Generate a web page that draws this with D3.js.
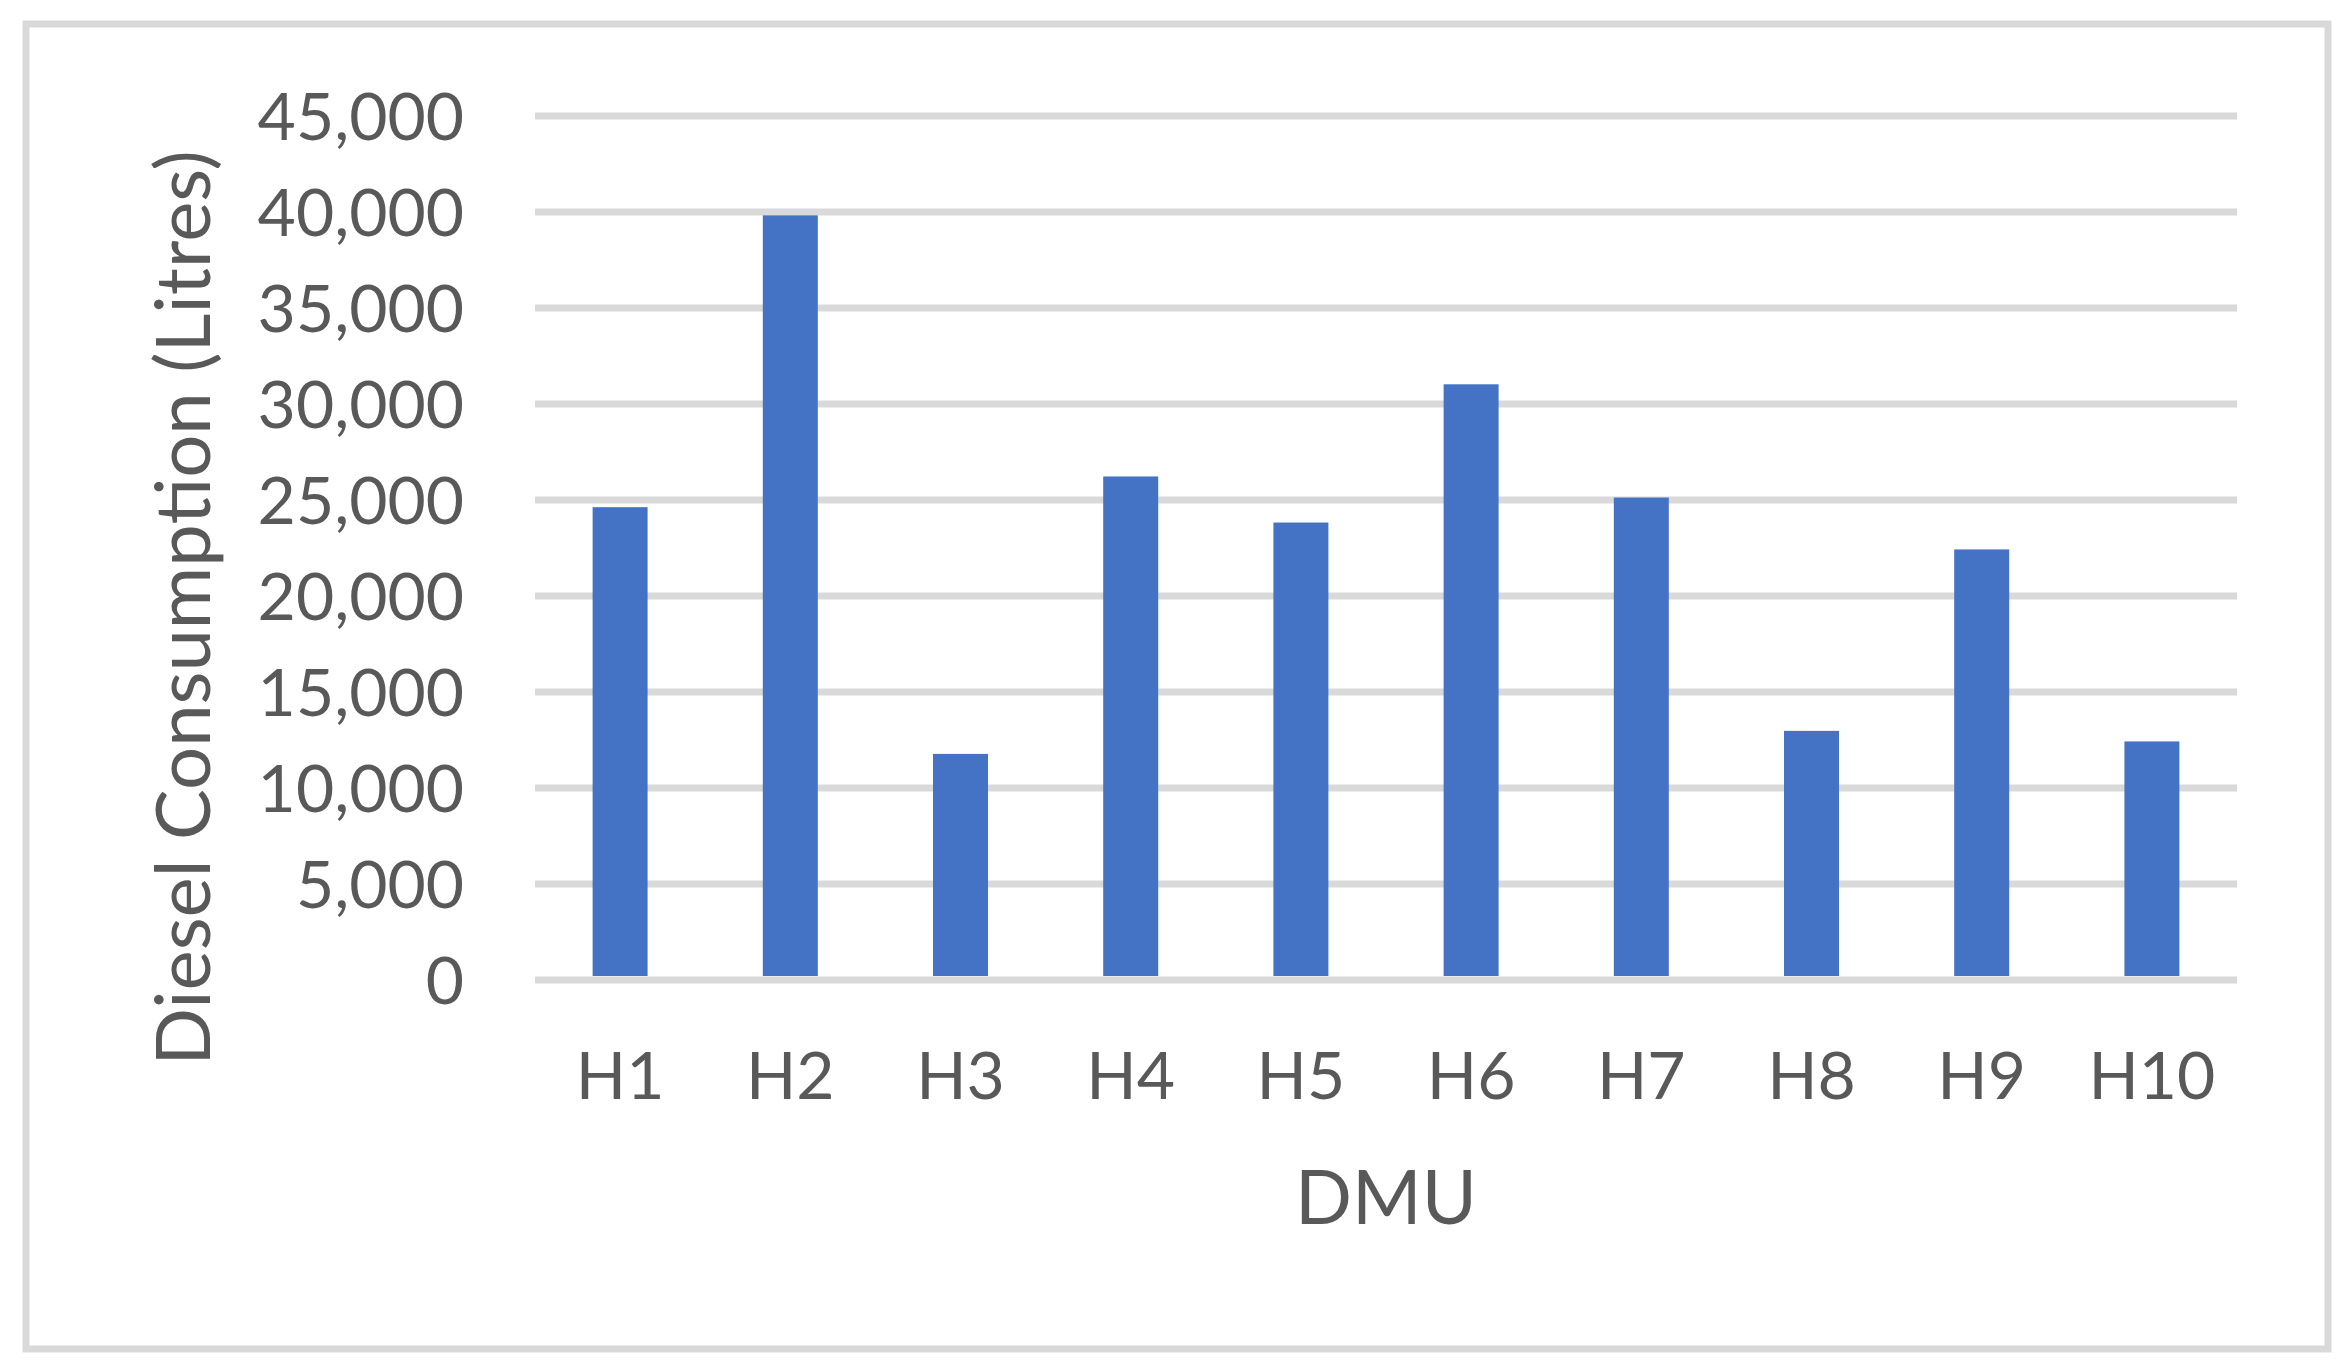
<!DOCTYPE html>
<html>
<head>
<meta charset="utf-8">
<script src="https://cdn.jsdelivr.net/npm/d3@7"></script>
<style>
  body { margin: 0; background: #fff; }
  text { font-family: Lato, "Open Sans", sans-serif; fill: #595959; }
</style>
</head>
<body>
<div id="chart"></div>
<script>
// data
var categories = ["H1", "H2", "H3", "H4", "H5", "H6", "H7", "H8", "H9", "H10"];
var dieselLitres = [24600, 39800, 11750, 26200, 23800, 31000, 25100, 12950, 22400, 12400];
var yTicks = [0, 5000, 10000, 15000, 20000, 25000, 30000, 35000, 40000, 45000];

var w = 2347;
var h = 1370;
var margin = {
  top: 115.5,
  bottom: 390.5,
  left: 535,
  right: 110,
};
var width = w - margin.left - margin.right;
var height = h - margin.top - margin.bottom;
var gridColor = "#D9D9D9";
var barColor = "#4472C4";

var svg = d3
  .select("#chart")
  .append("svg")
  .attr("width", w)
  .attr("height", h);

// outer chart frame
svg
  .append("rect")
  .attr("x", 26)
  .attr("y", 24)
  .attr("width", 2302)
  .attr("height", 1325)
  .attr("fill", "#fff")
  .attr("stroke", gridColor)
  .attr("stroke-width", 7);

var g = svg.append("g").attr("transform", `translate(${margin.left},${margin.top})`);

var x = d3
  .scaleBand()
  .domain(categories)
  .range([0, width])
  .paddingInner(0.677)
  .paddingOuter(0.3385);

var y = d3.scaleLinear().domain([0, 45000]).range([height, 0]);

// y axis with gridlines drawn as long ticks
var yAxis = g
  .append("g")
  .attr("class", "y-axis")
  .call(
    d3
      .axisLeft(y)
      .tickValues(yTicks)
      .tickFormat(d3.format(","))
      .tickSize(-width)
      .tickPadding(71)
  );
yAxis.select(".domain").remove();
yAxis.selectAll("line").attr("stroke", gridColor).attr("stroke-width", 7);
yAxis.selectAll("text").attr("font-size", 66).attr("dy", "0.36em");

// bars
g.append("g")
  .selectAll("rect")
  .data(dieselLitres)
  .enter()
  .append("rect")
  .attr("x", (d, i) => x(categories[i]))
  .attr("y", (d) => y(d))
  .attr("width", x.bandwidth())
  .attr("height", (d) => height - y(d) - 3.5)
  .attr("fill", barColor);

// x axis labels only
var xAxis = g
  .append("g")
  .attr("class", "x-axis")
  .attr("transform", `translate(0,${height})`)
  .call(d3.axisBottom(x).tickSize(0));
xAxis.select(".domain").remove();
xAxis
  .selectAll("text")
  .attr("font-size", 66)
  .attr("dy", null)
  .attr("y", 119.5);

// axis titles
svg
  .append("text")
  .attr("transform", "translate(210,608) rotate(-90)")
  .attr("text-anchor", "middle")
  .attr("font-size", 76)
  .text("Diesel Consumption (Litres)");

svg
  .append("text")
  .attr("x", margin.left + width / 2)
  .attr("y", 1224)
  .attr("text-anchor", "middle")
  .attr("font-size", 75)
  .text("DMU");
</script>
</body>
</html>
